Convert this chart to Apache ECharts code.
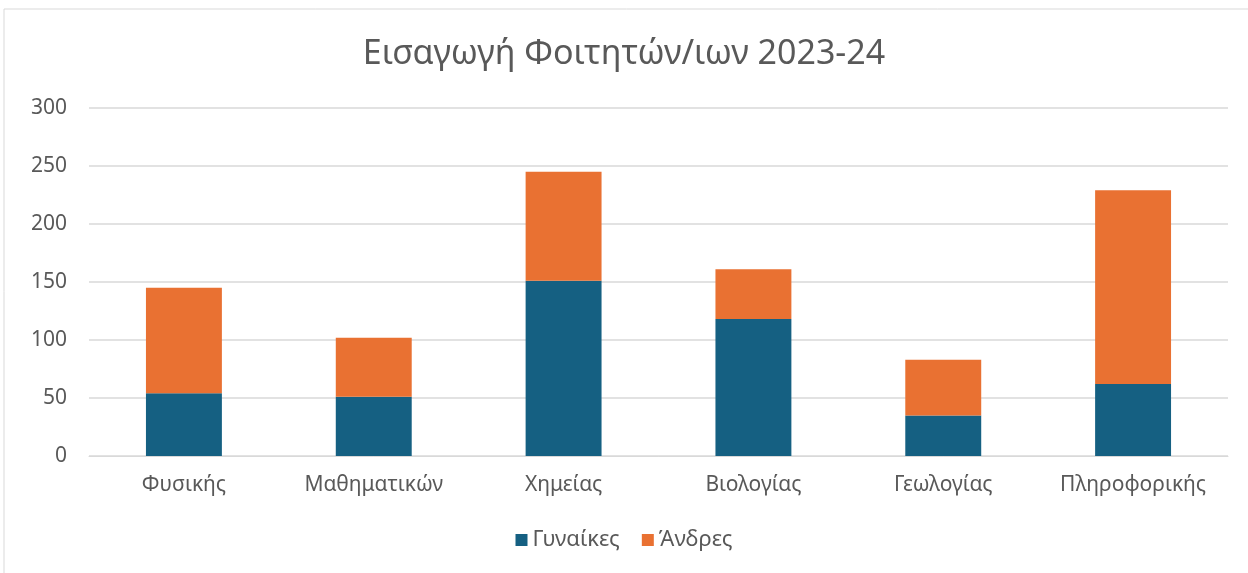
<!DOCTYPE html>
<html>
<head>
<meta charset="utf-8">
<script src="https://cdn.jsdelivr.net/npm/echarts@6/dist/echarts.min.js"></script>
<style>
  html, body { margin: 0; padding: 0; background: #fff; }
  #chart { width: 1248px; height: 573px; }
</style>
</head>
<body>
<div id="chart"></div>
<script>
// σχολές και εισακτέοι ανά φύλο
const categories = ['Φυσικής', 'Μαθηματικών', 'Χημείας', 'Βιολογίας', 'Γεωλογίας', 'Πληροφορικής'];
const women = [54, 51, 151, 118, 35, 62];
const men = [91, 51, 94, 43, 48, 167];
const seriesNames = ['Γυναίκες', 'Άνδρες'];

const textColor = '#595959';
const font = '"Noto Sans", "Open Sans", sans-serif';

const chart = echarts.init(document.getElementById('chart'));
chart.setOption({
  animation: false,
  textStyle: { fontFamily: font },
  title: {
    text: 'Εισαγωγή Φοιτητών/ιων 2023-24',
    left: 'center',
    top: 32,
    textStyle: { fontSize: 34, fontWeight: 'normal', color: textColor, fontFamily: font }
  },
  // πλαίσιο γύρω από το γράφημα
  graphic: [{
    type: 'rect',
    shape: { x: 4, y: 9, width: 1300, height: 620 },
    style: { fill: 'none', stroke: '#D9D9D9', lineWidth: 1 },
    silent: true
  }],
  legend: {
    bottom: 17,
    left: 'center',
    itemWidth: 12,
    itemHeight: 12,
    itemGap: 22,
    icon: 'rect',
    textStyle: { fontSize: 22, color: textColor, fontFamily: font },
    data: seriesNames
  },
  grid: { left: 89, right: 20, top: 108, bottom: 117 },
  xAxis: {
    type: 'category',
    data: categories,
    axisLine: { lineStyle: { color: '#D9D9D9' } },
    axisTick: { show: false },
    axisLabel: { interval: 0, fontSize: 21, color: textColor, margin: 19, fontFamily: font }
  },
  yAxis: {
    type: 'value',
    min: 0,
    max: 300,
    interval: 50,
    axisLine: { show: false },
    axisTick: { show: false },
    splitLine: { lineStyle: { color: '#D9D9D9', width: 1.5 } },
    axisLabel: { fontSize: 21, color: textColor, margin: 22, fontFamily: font }
  },
  series: [
    {
      name: seriesNames[0],
      type: 'bar',
      stack: 'total',
      barWidth: '40%',
      itemStyle: { color: '#156082' },
      data: women
    },
    {
      name: seriesNames[1],
      type: 'bar',
      stack: 'total',
      itemStyle: { color: '#E97132' },
      data: men
    }
  ]
});
</script>
</body>
</html>
